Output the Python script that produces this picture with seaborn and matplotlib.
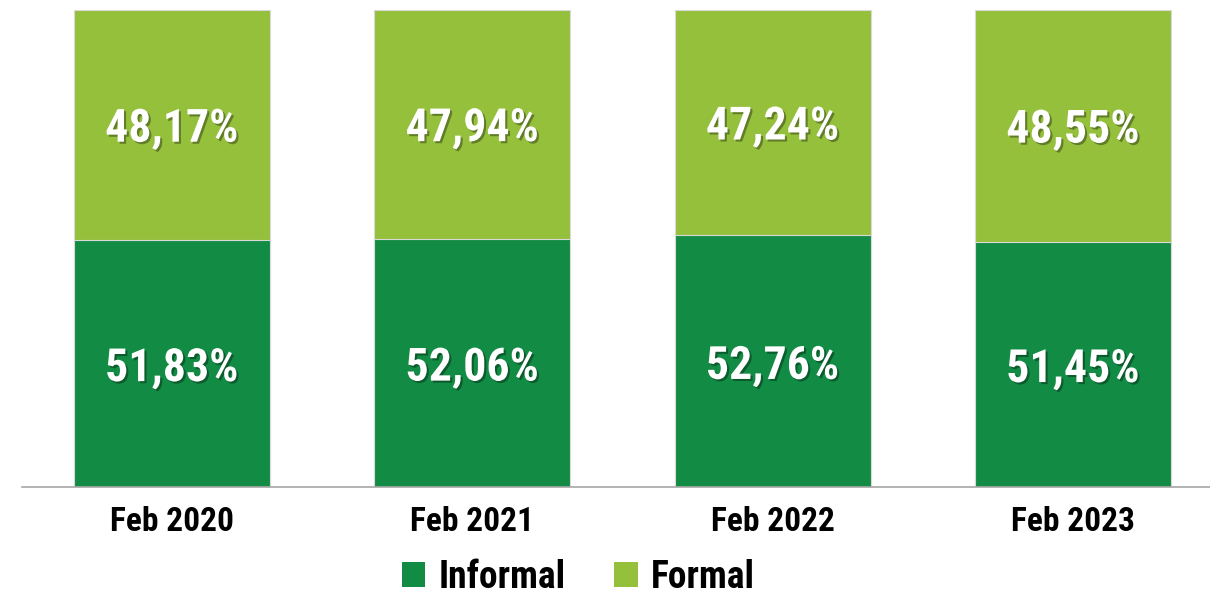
import matplotlib
matplotlib.use("Agg")
import matplotlib.pyplot as plt
import matplotlib.patheffects as pe
from matplotlib.patches import Patch
import seaborn as sns
import pandas as pd

categories = ["Feb 2020", "Feb 2021", "Feb 2022", "Feb 2023"]
informal = [51.83, 52.06, 52.76, 51.45]
formal = [48.17, 47.94, 47.24, 48.55]

DARK = "#128C44"
LIGHT = "#95C03C"

sns.set_theme(style="white")
plt.rcParams['font.family'] = ['Roboto Condensed', 'DejaVu Sans']
plt.rcParams['text.color'] = 'black'

df = pd.DataFrame({"cat": categories, "informal": informal, "formal": formal})
df["total"] = df["informal"] + df["formal"]

fig = plt.figure(figsize=(12.10, 5.96), dpi=100)
ax = fig.add_axes([22/1210, (596-487)/596, 1 - 22/1210, (487-10)/596])

sns.barplot(data=df, x="cat", y="total", order=categories, color=LIGHT, width=0.652,
            saturation=1, edgecolor="#d9d9d9", linewidth=0.8, ax=ax)
sns.barplot(data=df, x="cat", y="informal", order=categories, color=DARK, width=0.652,
            saturation=1, edgecolor="#d9d9d9", linewidth=0.8, ax=ax)

ax.set_ylim(0, 100)
ax.set_xlim(-0.499, 3.456)
ax.set_xlabel("")
ax.set_ylabel("")
ax.set_yticks([])
for s in ["top", "right", "left"]:
    ax.spines[s].set_visible(False)
ax.spines["bottom"].set_color("#a6a6a6")
ax.spines["bottom"].set_linewidth(1.2)
ax.tick_params(axis="x", length=0, pad=14, labelsize=24, labelcolor="black")
for lbl in ax.get_xticklabels():
    lbl.set_fontweight("bold")

shadow = [pe.withSimplePatchShadow(offset=(1.5, -1.5), shadow_rgbFace="black", alpha=0.35)]
for i, (inf, frm) in enumerate(zip(informal, formal)):
    ax.text(i, inf / 2 - 1.0, f"{inf:.2f}%".replace(".", ","), ha="center", va="center",
            color="white", fontsize=33, fontweight="bold", path_effects=shadow)
    ax.text(i, inf + frm / 2 - 0.8, f"{frm:.2f}%".replace(".", ","), ha="center", va="center",
            color="white", fontsize=33, fontweight="bold", path_effects=shadow)

handles = [Patch(facecolor=DARK, edgecolor="none"), Patch(facecolor=LIGHT, edgecolor="none")]
leg = fig.legend(handles, ["Informal", "Formal"], loc="lower center", bbox_to_anchor=(0.478, -0.056),
                 ncol=2, frameon=False, handlelength=0.62, handleheight=0.62,
                 handletextpad=0.35, columnspacing=1.3, prop={"weight": "bold", "size": 27})
for t in leg.get_texts():
    t.set_color("black")

fig.savefig("out.png", dpi=100)
